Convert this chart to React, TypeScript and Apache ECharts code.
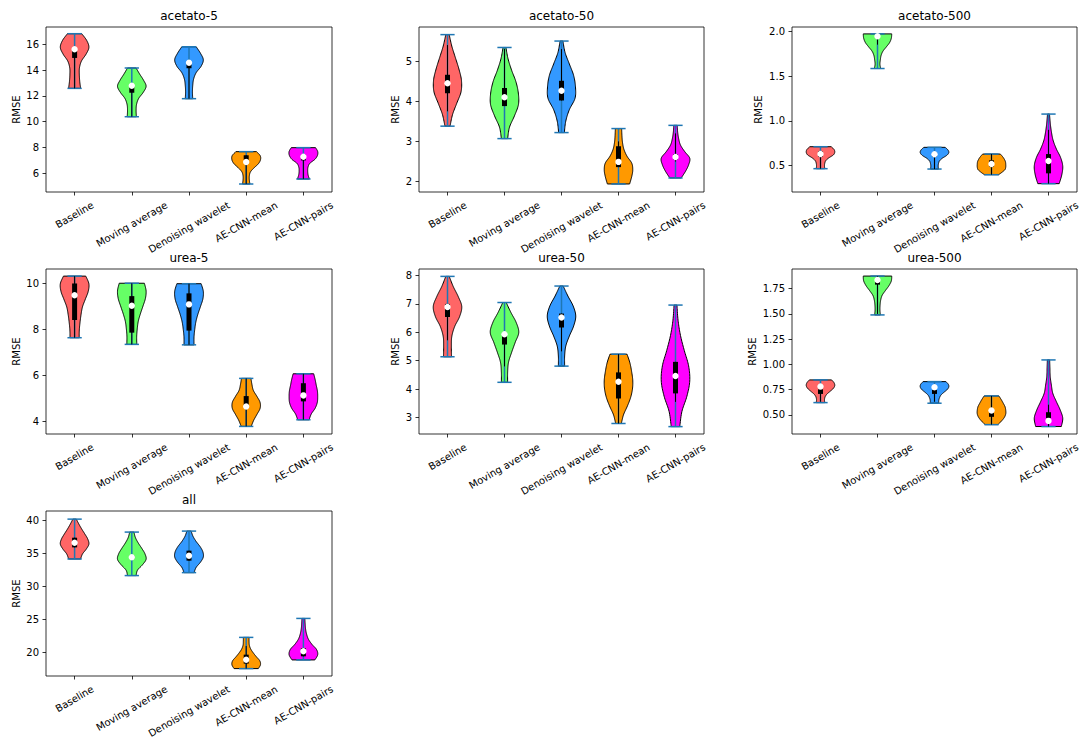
import React, { useEffect, useRef } from 'react';
import * as echarts from 'echarts';

const categories = ['Baseline', 'Moving average', 'Denoising wavelet', 'AE-CNN-mean', 'AE-CNN-pairs'];
const bodyColors = ['#ff6666', '#66ff66', '#3399ff', '#ff9900', '#ff00ff'];
const lineBlue = '#1f77b4';

// rows: [category, min, max, q1, q3, whiskerLow, whiskerHigh, dot]
// shapes: relative half-widths at 9 evenly spaced levels from min (first) to max (last)
const acetato5Stats = [
  [0, 12.59, 16.83, 14.95, 15.5, 12.59, 15.6, 15.62],
  [1, 10.39, 14.17, 12.25, 12.8, 10.39, 12.8, 12.8],
  [2, 11.79, 15.82, 14.15, 14.6, 11.79, 14.6, 14.58],
  [3, 5.17, 7.68, 7.05, 7.4, 5.17, 7.4, 6.88],
  [4, 5.56, 7.99, 7.0, 7.45, 5.56, 7.45, 7.29],
];
const acetato5Shapes = [
  [0.42, 0.36, 0.33, 0.34, 0.48, 0.8, 1.0, 0.85, 0.5],
  [0.32, 0.3, 0.33, 0.48, 0.8, 1.0, 0.82, 0.55, 0.3],
  [0.26, 0.24, 0.26, 0.32, 0.5, 0.85, 1.0, 0.8, 0.5],
  [0.26, 0.22, 0.22, 0.3, 0.55, 0.85, 1.0, 0.98, 0.72],
  [0.42, 0.33, 0.3, 0.32, 0.45, 0.8, 0.98, 1.0, 0.85],
];
const acetato5Range = [4.55, 17.35];
const acetato5Ticks = [6, 8, 10, 12, 14, 16];
const acetato5TickLabels = ['6', '8', '10', '12', '14', '16'];

const acetato50Stats = [
  [0, 3.38, 5.66, 4.2, 4.66, 3.75, 5.4, 4.45],
  [1, 3.07, 5.34, 3.88, 4.33, 3.88, 5.3, 4.1],
  [2, 3.22, 5.5, 4.02, 4.51, 4.02, 5.3, 4.26],
  [3, 1.94, 3.32, 2.36, 2.88, 2.36, 3.0, 2.49],
  [4, 2.09, 3.4, 2.55, 2.68, 2.5, 3.2, 2.61],
];
const acetato50Shapes = [
  [0.18, 0.35, 0.65, 0.95, 0.98, 0.8, 0.55, 0.3, 0.12],
  [0.22, 0.35, 0.7, 0.98, 0.97, 0.8, 0.5, 0.25, 0.1],
  [0.2, 0.3, 0.55, 0.95, 0.98, 0.85, 0.55, 0.25, 0.1],
  [0.78, 0.92, 1.0, 0.93, 0.6, 0.38, 0.28, 0.24, 0.22],
  [0.4, 0.7, 0.92, 1.0, 0.65, 0.35, 0.22, 0.15, 0.12],
];
const acetato50Range = [1.74, 5.85];
const acetato50Ticks = [2, 3, 4, 5];
const acetato50TickLabels = ['2', '3', '4', '5'];

const acetato500Stats = [
  [0, 0.467, 0.712, 0.6, 0.66, 0.467, 0.66, 0.63],
  [1, 1.584, 1.97, 1.93, 1.96, 1.85, 1.97, 1.944],
  [2, 0.463, 0.705, 0.6, 0.65, 0.463, 0.65, 0.627],
  [3, 0.4, 0.63, 0.49, 0.56, 0.4, 0.63, 0.519],
  [4, 0.3, 1.076, 0.415, 0.63, 0.3, 0.9, 0.552],
];
const acetato500Shapes = [
  [0.3, 0.28, 0.3, 0.38, 0.6, 0.9, 1.0, 0.95, 0.75],
  [0.22, 0.17, 0.2, 0.25, 0.38, 0.62, 0.85, 0.97, 1.0],
  [0.28, 0.26, 0.28, 0.35, 0.55, 0.85, 1.0, 0.95, 0.75],
  [0.5, 0.75, 0.95, 1.0, 1.0, 0.98, 0.9, 0.78, 0.62],
  [0.75, 0.93, 1.0, 0.85, 0.55, 0.32, 0.2, 0.12, 0.07],
];
const acetato500Range = [0.207, 2.047];
const acetato500Ticks = [0.5, 1.0, 1.5, 2.0];
const acetato500TickLabels = ['0.5', '1.0', '1.5', '2.0'];

const urea5Stats = [
  [0, 7.64, 10.32, 8.41, 10.0, 7.64, 10.32, 9.49],
  [1, 7.35, 10.01, 7.86, 9.45, 7.35, 10.01, 9.03],
  [2, 7.33, 9.99, 7.95, 9.57, 7.33, 9.99, 9.09],
  [3, 3.78, 5.87, 4.7, 5.1, 3.78, 5.87, 4.65],
  [4, 4.07, 6.07, 4.87, 5.66, 4.07, 6.07, 5.13],
];
const urea5Shapes = [
  [0.32, 0.33, 0.38, 0.45, 0.55, 0.75, 0.95, 1.0, 0.78],
  [0.35, 0.34, 0.38, 0.45, 0.6, 0.78, 0.95, 1.0, 0.88],
  [0.35, 0.35, 0.4, 0.48, 0.62, 0.8, 0.97, 1.0, 0.85],
  [0.35, 0.52, 0.75, 0.97, 0.97, 0.75, 0.5, 0.4, 0.33],
  [0.4, 0.55, 0.82, 0.97, 1.0, 0.98, 0.9, 0.82, 0.72],
];
const urea5Range = [3.45, 10.63];
const urea5Ticks = [4, 6, 8, 10];
const urea5TickLabels = ['4', '6', '8', '10'];

const urea50Stats = [
  [0, 5.14, 7.97, 6.54, 7.0, 5.72, 7.0, 6.89],
  [1, 4.24, 7.05, 5.57, 6.0, 4.8, 6.0, 5.93],
  [2, 4.81, 7.63, 6.17, 6.66, 5.33, 6.66, 6.52],
  [3, 2.79, 5.23, 3.67, 4.59, 2.79, 5.23, 4.26],
  [4, 2.68, 6.96, 3.85, 4.96, 3.55, 4.96, 4.46],
];
const urea50Shapes = [
  [0.28, 0.27, 0.3, 0.5, 0.85, 1.0, 0.75, 0.4, 0.12],
  [0.22, 0.22, 0.28, 0.5, 0.75, 1.0, 0.82, 0.45, 0.12],
  [0.22, 0.22, 0.3, 0.55, 0.85, 1.0, 0.82, 0.45, 0.12],
  [0.2, 0.35, 0.62, 0.85, 0.98, 1.0, 0.92, 0.8, 0.6],
  [0.3, 0.45, 0.8, 1.0, 0.92, 0.62, 0.35, 0.18, 0.1],
];
const urea50Range = [2.42, 8.23];
const urea50Ticks = [3, 4, 5, 6, 7, 8];
const urea50TickLabels = ['3', '4', '5', '6', '7', '8'];

const urea500Stats = [
  [0, 0.621, 0.846, 0.707, 0.753, 0.63, 0.78, 0.78],
  [1, 1.49, 1.875, 1.79, 1.82, 1.5, 1.875, 1.836],
  [2, 0.615, 0.829, 0.707, 0.747, 0.63, 0.77, 0.773],
  [3, 0.403, 0.687, 0.48, 0.52, 0.403, 0.687, 0.542],
  [4, 0.384, 1.044, 0.466, 0.526, 0.384, 0.6, 0.44],
];
const urea500Shapes = [
  [0.3, 0.28, 0.32, 0.45, 0.68, 0.9, 1.0, 0.95, 0.78],
  [0.2, 0.17, 0.18, 0.22, 0.32, 0.55, 0.8, 0.97, 1.0],
  [0.3, 0.3, 0.35, 0.45, 0.65, 0.88, 1.0, 0.97, 0.8],
  [0.45, 0.7, 0.9, 1.0, 1.0, 0.95, 0.82, 0.68, 0.52],
  [0.9, 1.0, 0.82, 0.55, 0.3, 0.2, 0.12, 0.1, 0.08],
];
const urea500Range = [0.31, 1.945];
const urea500Ticks = [0.5, 0.75, 1.0, 1.25, 1.5, 1.75];
const urea500TickLabels = ['0.50', '0.75', '1.00', '1.25', '1.50', '1.75'];

const allStats = [
  [0, 34.17, 40.2, 35.93, 37.39, 35.93, 37.39, 36.63],
  [1, 31.66, 38.24, 34.2, 34.7, 34.2, 34.7, 34.42],
  [2, 32.11, 38.39, 33.92, 35.43, 33.92, 35.43, 34.67],
  [3, 17.59, 22.31, 18.34, 19.7, 17.59, 21.0, 18.94],
  [4, 18.9, 25.18, 19.45, 20.7, 19.45, 20.7, 20.2],
];
const allShapes = [
  [0.42, 0.55, 0.82, 1.0, 0.92, 0.72, 0.5, 0.3, 0.12],
  [0.3, 0.4, 0.75, 1.0, 0.92, 0.7, 0.45, 0.25, 0.15],
  [0.35, 0.5, 0.8, 1.0, 0.97, 0.78, 0.5, 0.28, 0.15],
  [0.85, 1.0, 0.95, 0.72, 0.5, 0.32, 0.22, 0.2, 0.2],
  [0.8, 1.0, 0.92, 0.6, 0.35, 0.22, 0.15, 0.12, 0.1],
];
const allRange = [16.47, 41.43];
const allTicks = [20, 25, 30, 35, 40];
const allTickLabels = ['20', '25', '30', '35', '40'];

const panels = [
  { title: 'acetato-5', stats: acetato5Stats, shapes: acetato5Shapes, range: acetato5Range, ticks: acetato5Ticks, labels: acetato5TickLabels },
  { title: 'acetato-50', stats: acetato50Stats, shapes: acetato50Shapes, range: acetato50Range, ticks: acetato50Ticks, labels: acetato50TickLabels },
  { title: 'acetato-500', stats: acetato500Stats, shapes: acetato500Shapes, range: acetato500Range, ticks: acetato500Ticks, labels: acetato500TickLabels },
  { title: 'urea-5', stats: urea5Stats, shapes: urea5Shapes, range: urea5Range, ticks: urea5Ticks, labels: urea5TickLabels },
  { title: 'urea-50', stats: urea50Stats, shapes: urea50Shapes, range: urea50Range, ticks: urea50Ticks, labels: urea50TickLabels },
  { title: 'urea-500', stats: urea500Stats, shapes: urea500Shapes, range: urea500Range, ticks: urea500Ticks, labels: urea500TickLabels },
  { title: 'all', stats: allStats, shapes: allShapes, range: allRange, ticks: allTicks, labels: allTickLabels },
];

const layouts = [
  { left: 46, top: 27, width: 286, height: 165, nameGap: 25 },
  { left: 419, top: 27, width: 285, height: 165, nameGap: 19 },
  { left: 792, top: 27, width: 285, height: 165, nameGap: 29 },
  { left: 46, top: 269, width: 286, height: 165, nameGap: 25 },
  { left: 419, top: 269, width: 285, height: 165, nameGap: 19 },
  { left: 792, top: 269, width: 285, height: 165, nameGap: 35 },
  { left: 46, top: 511, width: 286, height: 165, nameGap: 25 },
];

const FONT = '"DejaVu Sans", Verdana, sans-serif';
const LABEL_H = 12;
const SIN30 = 0.5;
const COS30 = Math.sqrt(3) / 2;

let measureCtx: CanvasRenderingContext2D | null = null;
function textWidth(s: string) {
  if (!measureCtx) {
    measureCtx = document.createElement('canvas').getContext('2d');
    if (measureCtx) measureCtx.font = '10px "DejaVu Sans"';
  }
  return measureCtx ? measureCtx.measureText(s).width : s.length * 6;
}

function spline(pts: number[][], steps: number) {
  const out: number[][] = [];
  const n = pts.length;
  for (let i = 0; i < n - 1; i++) {
    const p0 = pts[Math.max(i - 1, 0)], p1 = pts[i], p2 = pts[i + 1], p3 = pts[Math.min(i + 2, n - 1)];
    for (let s = 0; s < steps; s++) {
      const t = s / steps, t2 = t * t, t3 = t2 * t;
      const f = (a: number, b: number, c: number, d: number) =>
        0.5 * (2 * b + (-a + c) * t + (2 * a - 5 * b + 4 * c - d) * t2 + (-a + 3 * b - 3 * c + d) * t3);
      out.push([f(p0[0], p1[0], p2[0], p3[0]), Math.max(0.4, f(p0[1], p1[1], p2[1], p3[1]))]);
    }
  }
  out.push(pts[n - 1]);
  return out;
}

function makeRender(shapes: number[][], range: number[]) {
  return (params: any, api: any) => {
    const cat = api.value(0);
    const vmin = api.value(1), vmax = api.value(2);
    const q1 = api.value(3), q3 = api.value(4);
    const wlo = api.value(5), whi = api.value(6), dot = api.value(7);
    const band = api.size([1, 0])[0];
    const hw = band * 0.25;
    const prof = shapes[params.dataIndex];
    const n = prof.length;
    const base = api.coord([cat, vmin]);
    const cx = base[0];
    const yOf = (v: number) => api.coord([cat, v])[1];
    const ctrl = prof.map((w, i) => [yOf(vmin + ((vmax - vmin) * i) / (n - 1)), w * hw]);
    const curve = spline(ctrl, 10);
    const pts: number[][] = [];
    curve.forEach((p) => pts.push([cx + p[1], p[0]]));
    for (let i = curve.length - 1; i >= 0; i--) pts.push([cx - curve[i][1], curve[i][0]]);
    const yMin = yOf(vmin), yMax = yOf(vmax);
    const cap = band * 0.125;
    const color = bodyColors[cat];
    const axisY = yOf(range[0]);
    const label = categories[cat];
    const w = textWidth(label);
    const labelCy = axisY + 7 + (w * SIN30 + LABEL_H * COS30) / 2;
    return {
      type: 'group',
      children: [
        { type: 'polygon', shape: { points: pts }, style: { fill: color, stroke: '#000', lineWidth: 1 } },
        { type: 'line', shape: { x1: cx, y1: yMin, x2: cx, y2: yMax }, style: { stroke: lineBlue, lineWidth: 1.5 } },
        { type: 'line', shape: { x1: cx - cap, y1: yMin, x2: cx + cap, y2: yMin }, style: { stroke: lineBlue, lineWidth: 1.5 } },
        { type: 'line', shape: { x1: cx - cap, y1: yMax, x2: cx + cap, y2: yMax }, style: { stroke: lineBlue, lineWidth: 1.5 } },
        { type: 'line', shape: { x1: cx, y1: yOf(wlo), x2: cx, y2: yOf(whi) }, style: { stroke: '#000', lineWidth: 1 } },
        { type: 'line', shape: { x1: cx, y1: yOf(q1), x2: cx, y2: yOf(q3) }, style: { stroke: '#000', lineWidth: 5, lineCap: 'butt' } },
        { type: 'circle', shape: { cx, cy: yOf(dot), r: 3.2 }, style: { fill: '#fff' } },
        {
          type: 'text', x: cx, y: labelCy, rotation: Math.PI / 6,
          style: {
            text: label, fontSize: 10, fontFamily: FONT, fill: '#000',
            align: 'center', verticalAlign: 'middle',
          },
        },
      ],
    };
  };
}

export default function App() {
  const ref = useRef<HTMLDivElement>(null);
  useEffect(() => {
    if (!ref.current) return;
    const chart = echarts.init(ref.current, null, { renderer: 'svg' });

    const grid: any[] = [];
    const xAxis: any[] = [];
    const yAxis: any[] = [];
    const series: any[] = [];
    const graphic: any[] = [];

    panels.forEach((p, i) => {
      const L = layouts[i];
      grid.push({
        left: L.left, top: L.top, width: L.width, height: L.height,
        show: true, borderColor: '#000', borderWidth: 0.8, backgroundColor: '#fff',
        containLabel: false, outerBoundsMode: 'none',
      });
      xAxis.push({
        type: 'category', gridIndex: i, data: categories, boundaryGap: true,
        axisLine: { show: false },
        axisTick: { show: true, alignWithLabel: true, interval: 0, length: 3.5, lineStyle: { color: '#000', width: 0.8 } },
        axisLabel: { show: false, interval: 0 },
        splitLine: { show: false },
      });
      yAxis.push({
        type: 'value', gridIndex: i, min: p.range[0], max: p.range[1],
        name: 'RMSE', nameLocation: 'middle', nameGap: L.nameGap, nameRotate: 90,
        nameTextStyle: { fontSize: 10, color: '#000', fontFamily: FONT },
        axisLine: { show: false },
        axisTick: { show: true, customValues: p.ticks, length: 3.5, lineStyle: { color: '#000', width: 0.8 } },
        axisLabel: {
          customValues: p.ticks, margin: 7, fontSize: 10, color: '#000', fontFamily: FONT,
          formatter: (v: number) => {
            const k = p.ticks.findIndex((t) => Math.abs(t - v) < 1e-9);
            return k >= 0 ? p.labels[k] : '';
          },
        },
        splitLine: { show: false },
      });
      series.push({
        type: 'custom', xAxisIndex: i, yAxisIndex: i, silent: true,
        encode: { x: 0, y: [1, 2] },
        data: p.stats,
        renderItem: makeRender(p.shapes, p.range),
      });
      graphic.push({
        type: 'text', x: L.left + L.width / 2, y: L.top - 11,
        style: {
          text: p.title, fontSize: 12, fontFamily: FONT, fill: '#000',
          textAlign: 'center', textVerticalAlign: 'middle', align: 'center', verticalAlign: 'middle',
        },
      });
    });

    chart.setOption({
      animation: false,
      backgroundColor: '#fff',
      textStyle: { fontFamily: FONT },
      grid, xAxis, yAxis, series, graphic,
    });
    return () => chart.dispose();
  }, []);
  return (
    <div
      ref={ref}
      style={{ position: 'fixed', left: 0, top: 0, width: 1085, height: 742, background: '#fff' }}
    />
  );
}
